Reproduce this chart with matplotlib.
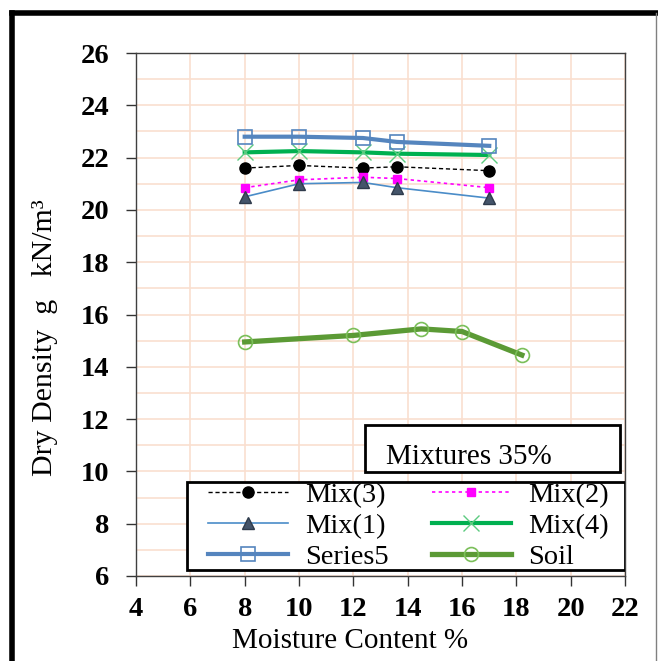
import matplotlib
matplotlib.use("Agg")
import matplotlib.pyplot as plt
from matplotlib.lines import Line2D
from matplotlib.patches import Rectangle

# ------------------------------------------------------------------ data
mix_x = [8, 10, 12.35, 13.6, 17]
mix3 = [21.6, 21.7, 21.6, 21.65, 21.5]
mix2 = [20.85, 21.15, 21.25, 21.2, 20.85]
mix1 = [20.5, 21.0, 21.05, 20.85, 20.45]
mix4 = [22.2, 22.25, 22.2, 22.15, 22.1]
series5 = [22.8, 22.8, 22.75, 22.6, 22.45]

soil_x = [8, 12, 14.5, 16, 18.2]
soil = [14.95, 15.2, 15.45, 15.35, 14.45]

x_ticks = list(range(4, 23, 2))
y_ticks = list(range(6, 27, 2))

# ------------------------------------------------------------------ style
plt.rcParams["font.family"] = ["Liberation Serif", "DejaVu Serif"]
grid_col = "#FADFCF"

fig = plt.figure(figsize=(6.58, 6.61), dpi=100)
ax = fig.add_axes([0.2067, 0.1286, 0.7433, 0.7912])

h3, = ax.plot(mix_x, mix3, ls=(0, (3, 2)), lw=1, color="black", marker="o",
              ms=8, mfc="black", mec="black", label="Mix(3)", zorder=5)
h2, = ax.plot(mix_x, mix2, ls=(0, (2, 2)), lw=1.2, color="#FF00FF", marker="s",
              ms=6, mfc="#FF00FF", mec="#FF00FF", label="Mix(2)", zorder=5)
h1, = ax.plot(mix_x, mix1, ls="-", lw=1.2, color="#4A8CC8", marker="^",
              ms=8.5, mfc="#44546A", mec="#2F3B4C", label="Mix(1)", zorder=5)
h4, = ax.plot(mix_x, mix4, ls="-", lw=3, color="#00B050", marker="x",
              ms=11, mew=1, mec="#5CCB80", label="Mix(4)", zorder=4)
h5, = ax.plot(mix_x, series5, ls="-", lw=3, color="#5585BE", marker="s",
              ms=10, mfc="none", mec="#5585BE", mew=1.2, label="Series5", zorder=4)
hs, = ax.plot(soil_x, soil, ls="-", lw=3.8, color="#5B9A35", marker="o",
              ms=10, mfc="none", mec="#7BBF5A", mew=1.2, label="Soil", zorder=4)

ax.set_xlim(4, 22)
ax.set_ylim(6, 26)
ax.set_xticks(x_ticks)
ax.set_yticks(y_ticks)
ax.set_yticks([v + 1 for v in y_ticks[:-1]], minor=True)
ax.tick_params(which="major", direction="out", length=7, width=1,
               color="#333333", labelsize=20.5)
ax.tick_params(axis="x", pad=8)
ax.tick_params(axis="y", pad=12)
ax.tick_params(which="minor", length=0)
for lab in ax.get_xticklabels() + ax.get_yticklabels():
    lab.set_fontweight("bold")

ax.grid(axis="x", which="major", color=grid_col, lw=1.2, zorder=0)
ax.grid(axis="y", which="both", color=grid_col, lw=1.2, zorder=0)
ax.set_axisbelow(True)
for sp in ax.spines.values():
    sp.set_color("#404040")
    sp.set_linewidth(1)

ax.set_xlabel("Moisture Content %", fontsize=21)
ax.xaxis.set_label_coords(0.438, -0.1)
ax.set_ylabel("Dry Density  g   kN/m³", fontsize=21.5)
ax.yaxis.set_label_coords(-0.16, 0.455)

# label box
ax.add_patch(Rectangle((0.468, 0.199), 0.522, 0.09, transform=ax.transAxes,
                       fc="white", ec="black", lw=2, zorder=6))
ax.text(0.511, 0.228, "Mixtures 35%", transform=ax.transAxes, fontsize=21,
        va="center", ha="left", zorder=7)

# legend box drawn separately, entries row by row:
# Mix(3) Mix(2) / Mix(1) Mix(4) / Series5 Soil
ax.add_patch(Rectangle((0.104, 0.011), 0.896, 0.169, transform=ax.transAxes,
                       fc="white", ec="black", lw=2, zorder=7))
handles = [h3, h1, h5, h2, h4, hs]
leg = ax.legend(handles, [h.get_label() for h in handles],
                loc="center", bbox_to_anchor=(0.147, 0.011, 0.82, 0.169),
                mode="expand", ncol=2, fontsize=20.5, handlelength=2.8,
                labelspacing=0.19, borderpad=0.0, handletextpad=0.6,
                columnspacing=1.2, frameon=False, borderaxespad=0)
leg.set_zorder(8)

# outer chart frame
fig.add_artist(Line2D([0.0175, 0.9977], [0.9796, 0.9796], color="black", lw=4))
fig.add_artist(Line2D([0.0175, 0.0175], [0.0, 0.9796], color="black", lw=4))
fig.add_artist(Line2D([0.9977, 0.9977], [0.0, 0.9796], color="#808080", lw=1))

fig.savefig("out.png", dpi=100)
